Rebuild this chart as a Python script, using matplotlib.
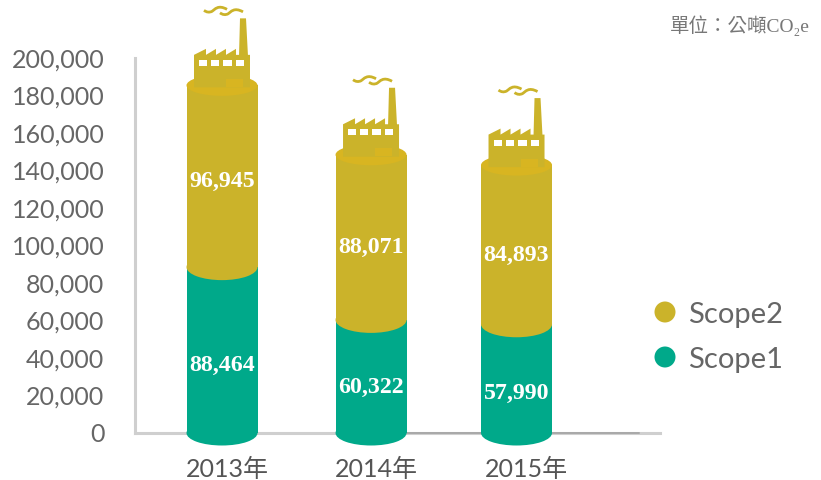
import matplotlib
matplotlib.use("Agg")
import matplotlib.pyplot as plt
from matplotlib.patches import Ellipse, Polygon, Rectangle, PathPatch, Circle
from matplotlib.path import Path
from matplotlib.transforms import Affine2D

years = ["2013年", "2014年", "2015年"]
scope1 = [88464, 60322, 57990]
scope2 = [96945, 88071, 84893]
yticks = list(range(0, 200001, 20000))
x_pos = [0, 1.007, 1.99]
label_pos = [0.034, 1.04, 2.06]

GREEN = "#00A98A"; GOLD = "#CBB32A"; TOPGOLD = "#D8B521"; GREY = "#666666"
W, H = 821, 481
fig = plt.figure(figsize=(W/100, H/100), dpi=100)
L, R, T, B = 135, 660, 59, 434
ax = fig.add_axes([L/W, 1-B/H, (R-L)/W, (B-T)/H])
unit = 148.0
ax.set_xlim(-(222-L)/unit, (R-222)/unit)
ax.set_ylim(0, 200000)
for s in ("top", "right"):
    ax.spines[s].set_visible(False)
for s in ("left", "bottom"):
    ax.spines[s].set_color("#CFCFCF"); ax.spines[s].set_linewidth(2.2); ax.spines[s].set_capstyle("projecting")
ax.set_yticks(yticks, [f"{v:,}" for v in yticks], family=["Lato", "Noto Sans CJK TC"], fontsize=18, color=GREY)
ax.set_xticks(label_pos, years, family=["Lato", "Noto Sans CJK TC"], fontsize=18, color="#555555")
ax.tick_params(length=0)
ax.tick_params(axis="y", pad=22)
ax.tick_params(axis="x", pad=17)
for t in ax.get_yticklabels():
    t.set_transform(t.get_transform() + Affine2D().translate(0, 1))

bar_w = 71/unit
dh = 200000/(B-T)   # data units per pixel
rx = 71/unit
ax.plot([1.2, 2.82], [0, 0], color="#A8A8A8", lw=1.4, zorder=2.6, clip_on=False, solid_capstyle="round")

def to_px(x, y):
    return ax.transData.transform((x, y))

def factory(x, y):
    px, py = to_px(x, y)
    tr = Affine2D().scale(1, -1).translate(px, py)
    kw = dict(transform=tr, clip_on=False, zorder=6, lw=0)
    body = [(-28,2),(-28,-30.5),(-16,-36.5),(-16,-30.5),(-6,-36.5),(-6,-30.5),(4,-36.5),(4,-30.5),(14,-36.5),(14,-30.5),(28,-30.5),(28,2)]
    ax.add_patch(Polygon(body, fc=GOLD, **kw))
    ax.add_patch(Polygon([(17,-29),(18,-67),(24,-67),(26,-29)], fc=GOLD, **kw))
    for wx, ww in zip((-23,-11,1,14), (8,8,9,8)):
        ax.add_patch(Rectangle((wx,-25.5), ww, 6, fc="white", **kw))
    ax.add_patch(Rectangle((4,-6.5), 17, 8, fc=TOPGOLD, **kw))
    for dx, dy in ((-18,-75), (-2,-72.5)):
        verts = [(dx,dy),(dx+4,dy+3),(dx+8,dy+1),(dx+11,dy-1),(dx+14,dy-6),(dx+23,dy-1)]
        p = Path(verts, [Path.MOVETO, Path.CURVE3, Path.CURVE3, Path.CURVE4, Path.CURVE4, Path.CURVE4])
        ax.add_patch(PathPatch(p, fc="none", ec=GOLD, lw=2.0, transform=tr, clip_on=False, zorder=6))

g_off = [4, 9, 10]; s_off = [14, 10, 14]
for i, x in enumerate(x_pos):
    a, b = scope1[i], scope2[i]
    tot = a + b
    ax.bar(x, a, bar_w, color=GREEN, zorder=3, clip_on=False)
    ax.add_patch(Ellipse((x, 0), rx, 25*dh, fc=GREEN, lw=0, zorder=3, clip_on=False))
    ax.bar(x, b, bar_w, bottom=a, color=GOLD, zorder=4, clip_on=False)
    ax.add_patch(Ellipse((x, a), rx, 26*dh, fc=GOLD, lw=0, zorder=4, clip_on=False))
    ax.add_patch(Ellipse((x, tot), rx, 21*dh, fc=TOPGOLD, lw=0, zorder=5, clip_on=False))
    factory(x, tot)
    lab = dict(color="white", family="Liberation Serif", weight="bold", fontsize=17.2, ha="center", va="center", zorder=7, textcoords="offset pixels")
    ax.annotate(f"{b:,}", (x, a+b/2), xytext=(0, -g_off[i]), **lab)
    ax.annotate(f"{a:,}", (x, a/2), xytext=(0, -s_off[i]), **lab)

# legend
for label, col, py in (("Scope2", GOLD, 313), ("Scope1", GREEN, 358)):
    fig.add_artist(Circle((665, H-py), 10.5, fc=col, lw=0, transform=None))
    fig.text(688/W, 1-(py+2)/H, label, family="Lato", fontsize=21, color=GREY, va="center", ha="left")

fig.text(810/W, 1-26/H, "單位：公噸CO₂e", family=["Liberation Serif", "Noto Sans CJK TC"], fontsize=14, color="#777777", ha="right", va="center")
fig.savefig("out.png", dpi=100)
